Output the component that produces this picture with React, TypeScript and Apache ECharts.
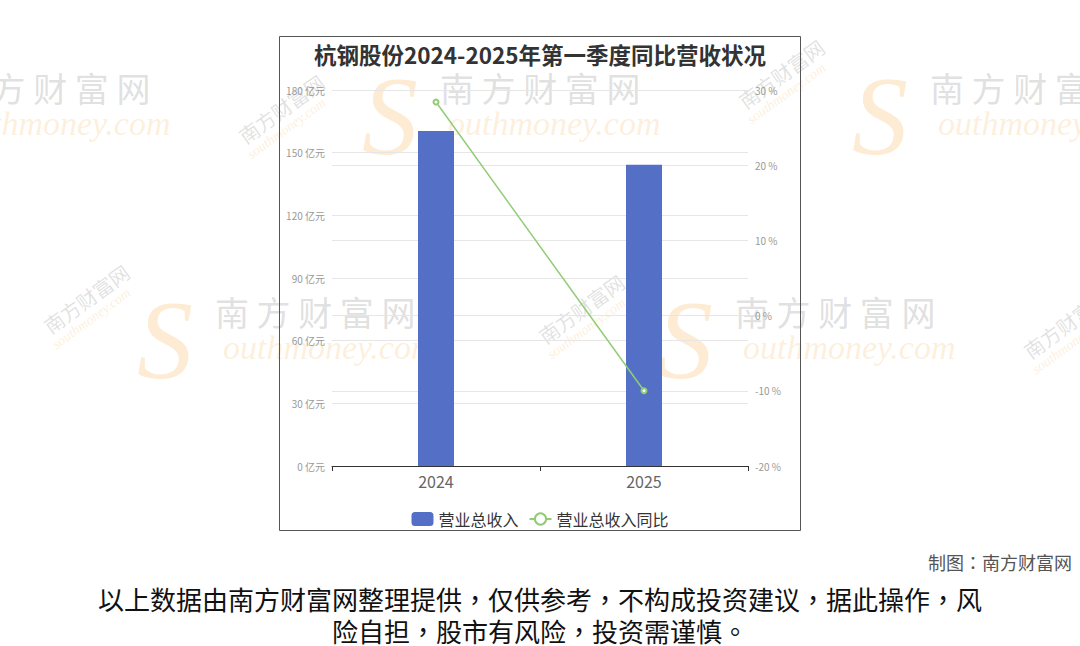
import React, { useEffect, useRef } from "react";
import * as echarts from "echarts";

const titleText = "杭钢股份2024-2025年第一季度同比营收状况";
const years = ["2024", "2025"];
const revenue = [160.4, 144.2];
const revenueYoY = [28.4, -10.0];
const seriesNames = ["营业总收入", "营业总收入同比"];
const footerCredit = "制图：南方财富网";
const disclaimerLines = [
  "以上数据由南方财富网整理提供，仅供参考，不构成投资建议，据此操作，风",
  "险自担，股市有风险，投资需谨慎。",
];
const wmCN = "南方财富网";
const wmEN = "outhmoney.com";
const wmSmallEN = "southmoney.com";

const FONT = "'Noto Sans CJK SC', 'Noto Sans', sans-serif";
const FONT_TC = "'Noto Sans CJK TC', 'Noto Sans CJK SC', sans-serif";
const SERIF = "'Liberation Serif', 'DejaVu Serif', serif";

function watermark(x: number, y: number): any[] {
  return [
    {
      type: "text",
      x: x - 78,
      y: y - 28,
      silent: true,
      z: 0,
      style: { text: "S", fill: "rgba(250,190,110,0.3)", font: `italic 112px ${SERIF}` },
    },
    {
      type: "text",
      x,
      y: y - 18,
      silent: true,
      z: 0,
      style: { text: wmCN.split("").join(" "), fill: "rgba(150,150,150,0.3)", font: `34px ${FONT}` },
    },
    {
      type: "text",
      x: x + 8,
      y: y + 18,
      silent: true,
      z: 0,
      style: { text: wmEN, fill: "rgba(250,200,130,0.28)", font: `italic 34px ${SERIF}` },
    },
  ];
}

function smallWatermark(x: number, y: number): any {
  return {
    type: "group",
    x,
    y,
    rotation: Math.PI / 5,
    silent: true,
    z: 0,
    children: [
      { type: "text", x: 0, y: 0, style: { text: wmCN, fill: "rgba(150,150,150,0.28)", font: `20px ${FONT}` } },
      { type: "text", x: -4, y: 22, style: { text: wmSmallEN, fill: "rgba(250,200,130,0.3)", font: `italic 14px ${SERIF}` } },
    ],
  };
}

export default function App() {
  const ref = useRef<HTMLDivElement>(null);
  useEffect(() => {
    if (!ref.current) return;
    const chart = echarts.init(ref.current, undefined, { renderer: "svg" });
    const option: any = {
      animation: false,
      backgroundColor: "#fff",
      title: {
        text: titleText,
        left: "center",
        top: 38,
        textStyle: { fontSize: 22.5, fontWeight: "bold", color: "#333", fontFamily: FONT },
      },
      grid: { left: 332, right: 332, top: 90, bottom: 180, containLabel: false },
      legend: {
        top: 506,
        left: "center",
        itemWidth: 22,
        itemHeight: 14,
        itemGap: 10,
        textStyle: { fontSize: 16, color: "#333", fontFamily: FONT },
        data: [
          { name: seriesNames[0], icon: "roundRect" },
          { name: seriesNames[1] },
        ],
      },
      xAxis: {
        type: "category",
        data: years,
        axisLine: { lineStyle: { color: "#333" } },
        axisTick: { show: true, lineStyle: { color: "#333" } },
        axisLabel: { fontSize: 16, color: "#666", margin: 7, fontFamily: FONT },
      },
      yAxis: [
        {
          type: "value",
          min: 0,
          max: 180,
          interval: 30,
          axisLine: { show: false },
          axisTick: { show: false },
          axisLabel: { formatter: "{value} 亿元", fontSize: 10, color: "#999", margin: 7, fontFamily: FONT },
          splitLine: { lineStyle: { color: "#e6e6e6" } },
        },
        {
          type: "value",
          min: -20,
          max: 30,
          interval: 10,
          axisLine: { show: false },
          axisTick: { show: false },
          axisLabel: { formatter: "{value} %", fontSize: 10, color: "#999", margin: 7, fontFamily: FONT },
          splitLine: { lineStyle: { color: "#e6e6e6" } },
        },
      ],
      series: [
        {
          name: seriesNames[0],
          type: "bar",
          data: revenue,
          barWidth: 36,
          itemStyle: { color: "#5470c6" },
          z: 3,
        },
        {
          name: seriesNames[1],
          type: "line",
          yAxisIndex: 1,
          data: revenueYoY,
          symbol: "emptyCircle",
          symbolSize: 5,
          lineStyle: { color: "#91cc75", width: 1.5 },
          itemStyle: { color: "#91cc75" },
          z: 4,
        },
      ],
      graphic: [
        ...watermark(440, 88),
        ...watermark(930, 88),
        ...watermark(-50, 88),
        ...watermark(215, 312),
        ...watermark(735, 312),
        smallWatermark(235, 130),
        smallWatermark(735, 95),
        smallWatermark(40, 320),
        smallWatermark(535, 330),
        smallWatermark(1020, 345),
        {
          type: "rect",
          shape: { x: 279.5, y: 36.5, width: 521, height: 494 },
          style: { fill: "none", stroke: "#555", lineWidth: 1 },
          silent: true,
          z: 10,
        },
        {
          type: "text",
          x: 1072,
          y: 562,
          style: { text: footerCredit, fill: "#555", font: `18px ${FONT_TC}`, align: "right", verticalAlign: "middle" },
          z: 10,
        },
        {
          type: "text",
          x: 540,
          y: 598,
          style: { text: disclaimerLines[0], fill: "#111", font: `26px ${FONT_TC}`, align: "center", verticalAlign: "middle" },
          z: 10,
        },
        {
          type: "text",
          x: 540,
          y: 630,
          style: { text: disclaimerLines[1], fill: "#111", font: `26px ${FONT_TC}`, align: "center", verticalAlign: "middle" },
          z: 10,
        },
      ],
    };
    chart.setOption(option);
    return () => chart.dispose();
  }, []);
  return (
    <div
      ref={ref}
      style={{ position: "absolute", left: 0, top: 0, width: 1080, height: 646 }}
    />
  );
}
